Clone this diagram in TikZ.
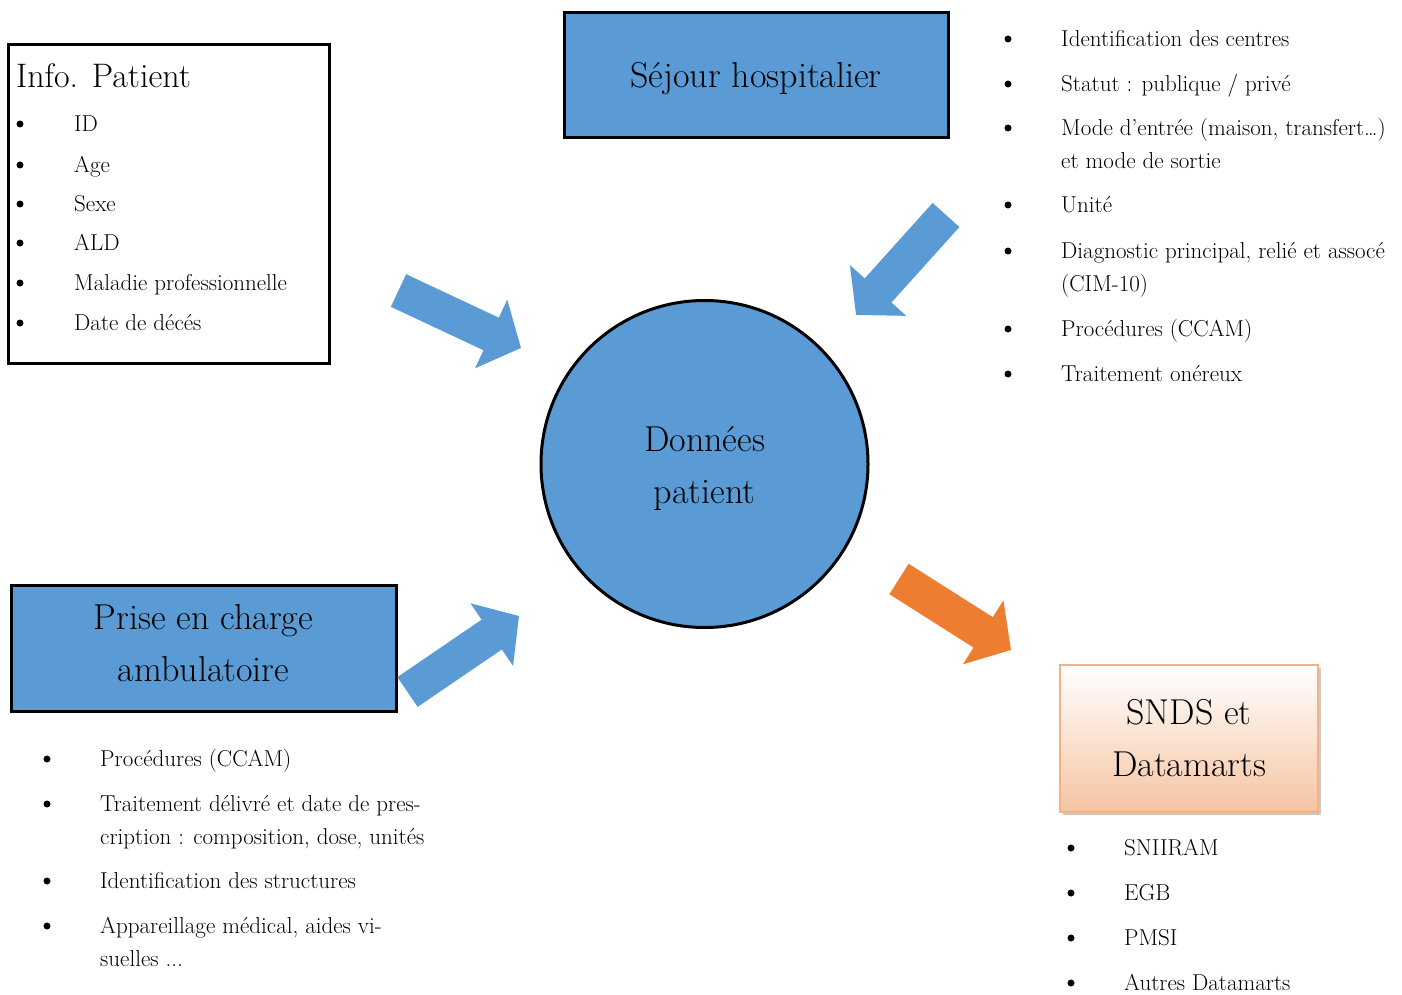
\documentclass[tikz,border=0pt]{standalone}
\usepackage{fontspec}
\usetikzlibrary{arrows.meta,shadows}
\definecolor{boxblue}{HTML}{5B9BD5}
\definecolor{arroworange}{HTML}{ED7D31}
\definecolor{sndsfill}{HTML}{F6C4A2}
\definecolor{sndsline}{HTML}{F4B183}
\tikzset{
	blockarrow/.style={line width=36pt, draw=boxblue, -{Triangle[width=74pt,length=33pt]}},
	item/.style={anchor=north west, inner sep=0pt, align=left, font=\fontsize{23}{33}\selectfont},
	boxtext/.style={font=\fontsize{36}{52}\selectfont, align=center, inner sep=0pt},
	bluebox/.style={draw, line width=3pt, fill=boxblue, boxtext}
}
\begin{document}
\begin{tikzpicture}[x=1pt,y=-1pt]
	\useasboundingbox (0,0) rectangle (1402,995);
	% patient info
	\node[draw, line width=3pt, minimum width=321pt, minimum height=318pt, inner sep=0pt] (info) at (168.5,204) {};
	\node[anchor=base west, inner sep=0pt, font=\fontsize{34}{34}\selectfont] (infotitle) at (16,88) {Info. Patient};
	\foreach \y/\t in {131/ID, 172/Age, 211/Sexe, 250/ALD, 290/Maladie professionnelle, 330/Date de décés} {
		\fill (20,\y-7) circle (3.5);
		\node[item] at (74,\y-23.1) {\strut\t};
	}
	% stay
	\node[bluebox, minimum width=384pt, minimum height=125pt, text height=30pt, text depth=6pt] (sejour) at (756,75.5) {Séjour hospitalier};
	\foreach \y/\t in {46/{Identification des centres}, 91/{Statut : publique / privé}, 135/{Mode d’entrée (maison, transfert…)\\et mode de sortie}, 212/{Unité}, 258/{Diagnostic principal, relié et assocé\\(CIM-10)}, 336/{Procédures (CCAM)}, 381/{Traitement onéreux}} {
		\fill (1008,\y-7) circle (3.5);
		\node[item] at (1061,\y-23.1) {\strut\t};
	}
	% centre
	\node[bluebox, circle, minimum size=327pt] (donnees) at (704.5,464) {\rule{0pt}{35pt}Données\\patient};
	% outpatient
	\node[bluebox, minimum width=385pt, minimum height=126pt] (prise) at (203.5,648) {Prise en charge\\ambulatoire\rule[-10pt]{0pt}{10pt}};
	\foreach \y/\t in {766/{Procédures (CCAM)}, 811/{Traitement délivré et date de pres-\\cription : composition, dose, unités}, 888/{Identification des structures}, 933/{Appareillage médical, aides vi-\\suelles ...}} {
		\fill (47,\y-7) circle (3.5);
		\node[item] at (100,\y-23.1) {\strut\t};
	}
	% snds
	\node[boxtext, draw=sndsline, line width=1.5pt, top color=white, bottom color=sndsfill, minimum width=258pt, minimum height=147pt, drop shadow={shadow xshift=3pt, shadow yshift=-3pt, fill=black!35, opacity=0.6}] (snds) at (1189,738.5) {SNDS et\\Datamarts};
	\foreach \y/\t in {855/SNIIRAM, 900/EGB, 945/PMSI, 990/Autres Datamarts} {
		\fill (1071,\y-7) circle (3.5);
		\node[item] at (1124,\y-23.1) {\strut\t};
	}
	% arrows
	\coordinate (infotail) at (398.5,290.5);
	\coordinate (infotip) at (521,348);
	\coordinate (sejourtail) at (946,215);
	\coordinate (sejourtip) at (856,315);
	\coordinate (prisetail) at (407.5,692);
	\coordinate (prisetip) at (519,616);
	\coordinate (sndstail) at (899,579);
	\coordinate (sndstip) at (1011,650);
	\draw[blockarrow] (infotail) -- (infotip);
	\draw[blockarrow] (sejourtail) -- (sejourtip);
	\draw[blockarrow] (prisetail) -- (prisetip);
	\draw[blockarrow, draw=arroworange] (sndstail) -- (sndstip);
\end{tikzpicture}
\end{document}
